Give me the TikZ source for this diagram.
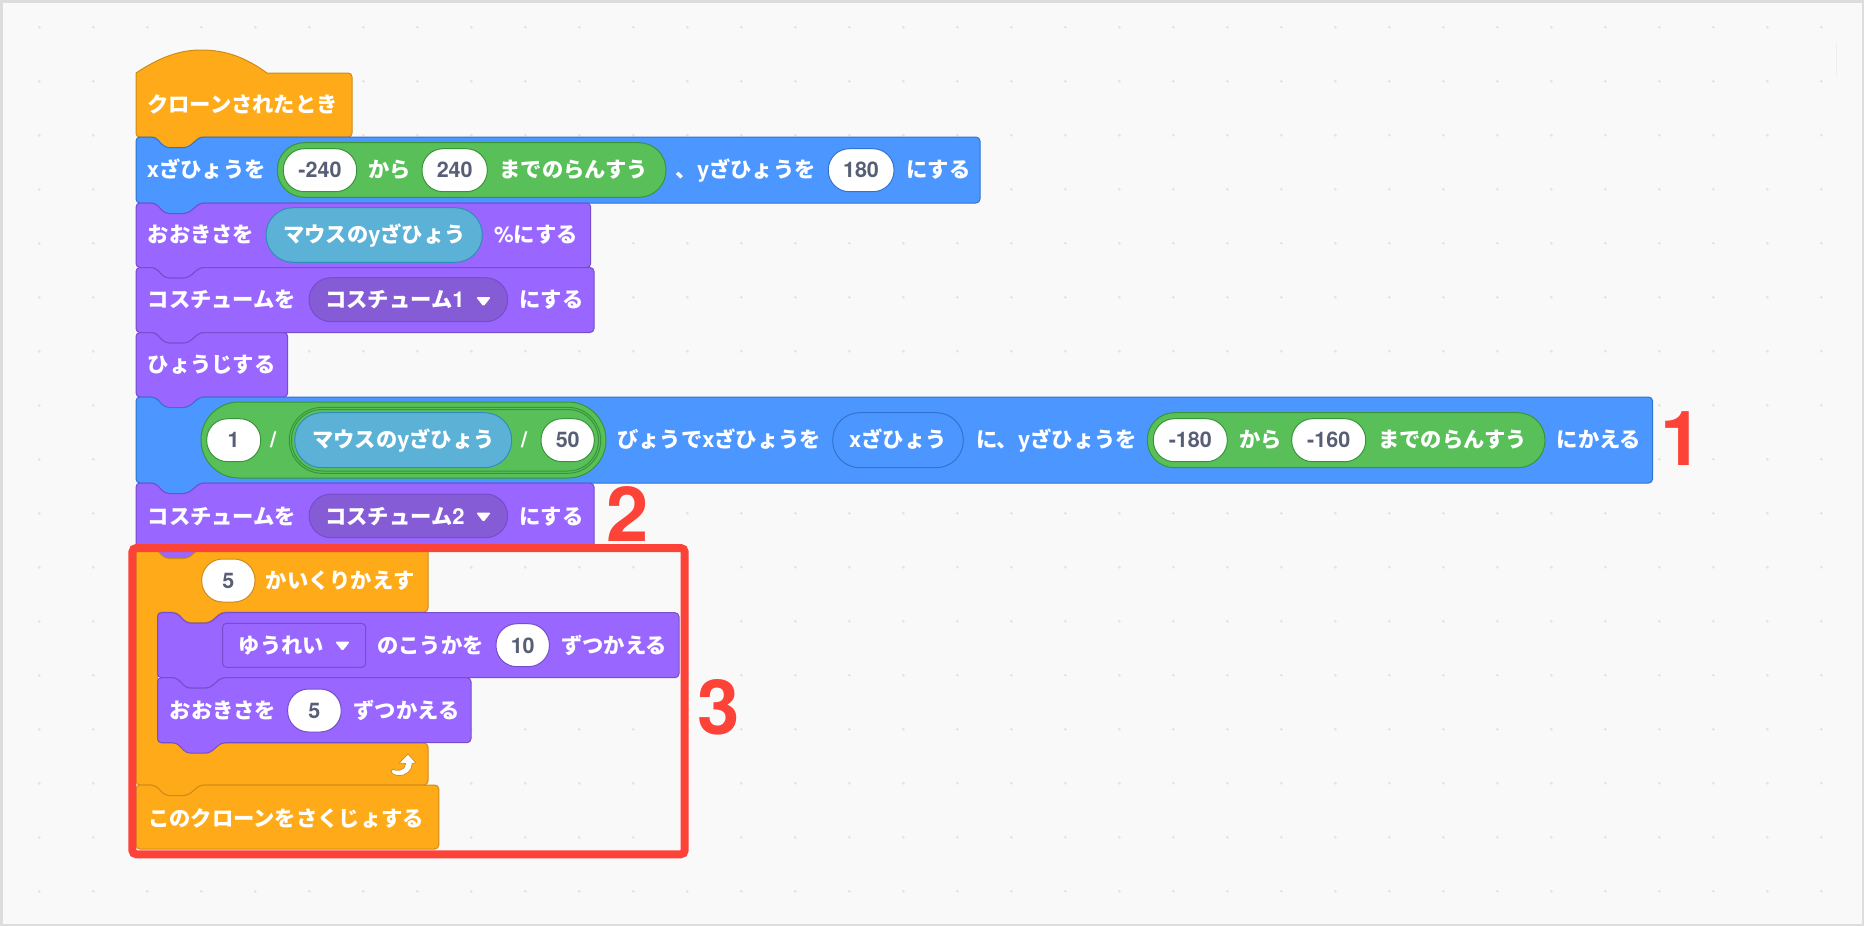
\documentclass[tikz,border=0pt]{standalone}
\usepackage{fontspec}
\setmainfont{Noto Sans CJK JP}
\newfontfamily\lat{TeX Gyre Heros}
\definecolor{bluef}{HTML}{4C97FF}\definecolor{blues}{HTML}{3373CC}
\definecolor{purf}{HTML}{9966FF}\definecolor{purs}{HTML}{774DCB}
\definecolor{orf}{HTML}{FFAB19}\definecolor{ors}{HTML}{CF8B17}
\definecolor{grf}{HTML}{59C059}\definecolor{grs}{HTML}{389438}
\definecolor{senf}{HTML}{5CB1D6}\definecolor{sens}{HTML}{2E8EB8}
\definecolor{ddf}{HTML}{855CD6}
\definecolor{numc}{HTML}{575E75}
\definecolor{redc}{HTML}{FD4238}
\definecolor{bgc}{HTML}{F9F9F9}\definecolor{edgec}{HTML}{DDDDDD}
\definecolor{dotc}{HTML}{E2E2EC}
\tikzset{
 blueblk/.style={fill=bluef,draw=blues,line width=1pt},
 purblk/.style={fill=purf,draw=purs,line width=1pt},
 orblk/.style={fill=orf,draw=ors,line width=1pt},
 grpill/.style={fill=grf,draw=grs,line width=1pt},
 senpill/.style={fill=senf,draw=sens,line width=1pt},
 ddpill/.style={fill=ddf,draw=purs,line width=1pt},
 wb/.style={fill=white,draw=blues,line width=1pt},
 wg/.style={fill=white,draw=grs,line width=1pt},
 wp/.style={fill=white,draw=purs,line width=1pt},
 wo/.style={fill=white,draw=ors,line width=1pt},
 lbl/.style={anchor=base west,inner sep=0pt,text=white,font=\fontsize{21.3}{21.3}\selectfont\bfseries},
 numlbl/.style={anchor=base,inner sep=0pt,text=numc,font=\fontsize{21.5}{21.5}\selectfont\lat\bfseries},
 biglbl/.style={anchor=base west,inner sep=0pt,text=redc,font=\fontsize{76}{76}\selectfont\lat\bfseries},
}
\newcommand\la[1]{{\fontsize{22}{22}\selectfont\lat\bfseries #1}}
\newcount\nn
\newcommand\tx[3]{\global\advance\nn 1 \node[lbl] (t\the\nn) at ({#1},{#2+7.5}) {#3};}
\newcommand\nm[3]{\global\advance\nn 1 \node[numlbl] (t\the\nn) at ({#1},{#2+7.7}) {#3};}
\newcommand\bignum[3]{\global\advance\nn 1 \node[biglbl] (t\the\nn) at ({#1},{#2}) {#3};}
% block with notch and bump: style, x1,y1,x2,y2
\newcommand\blk[5]{\draw[#1,rounded corners=4pt] (#2,{#3+9}) -- (#2,#3) -- ({#2+19},#3) -- ({#2+29},{#3+10.5}) -- ({#2+52},{#3+10.5}) -- ({#2+64},#3) -- (#4,#3) -- (#4,#5) -- ({#2+64},#5) -- ({#2+52},{#5+10.5}) -- ({#2+29},{#5+10.5}) -- ({#2+19},#5) -- (#2,#5) -- cycle;}
% pill: style, x1,y1,x2,y2, radius
\newcommand\pill[6]{\draw[#1,rounded corners=#6pt] (#2,#3) rectangle (#4,#5);}
\newcommand\tri[3]{\fill[white,rounded corners=1.5pt] (#1,#2) -- ({#1+15},#2) -- ({#1+7.5},#3) -- cycle;}
\begin{document}
\begin{tikzpicture}[x=1pt,y=-1pt]
\useasboundingbox (0,0) rectangle (1864,926);
\fill[edgec] (0,0) rectangle (1864,926);
\fill[bgc] (3,3) rectangle (1862,924);
\foreach \i in {0,...,33}{\foreach \j in {0,...,16}{
  \fill[dotc] ({39.3+54*\i},{27.3+54*\j}) circle (1.5pt);}}
\draw[dotc!60,line width=1.5pt] (1836.5,42) -- (1836.5,76);
% hat
\draw[orblk] (136,73) .. controls (160,57) and (180,50) .. (201,50) .. controls (225,50) and (245,57) .. (267,73) -- (348,73) .. controls (350.5,73) and (352,74.5) .. (352,77) -- (352,133) .. controls (352,135.5) and (350.5,137) .. (348,137) -- (200,137) -- (188,147.5) -- (165,147.5) -- (155,137) -- (140,137) .. controls (137.5,137) and (136,135.5) .. (136,133) -- cycle;
\tx{147}{105}{クローンされたとき}
% row 1
\blk{blueblk}{136}{137}{980}{203}
\tx{146.7}{170}{\la{x}ざひょうを}
\pill{grpill}{277.3}{142.7}{666}{197.3}{27}
\pill{wg}{283.3}{148.7}{356.7}{191.7}{21}
\nm{320}{170}{-240}
\tx{368}{170}{から}
\pill{wg}{422}{148.7}{487.3}{191.7}{21}
\nm{454.7}{170}{240}
\tx{499.3}{170}{までのらんすう}
\tx{675.5}{170}{、\la{y}ざひょうを}
\pill{wb}{828.3}{148.7}{894}{191.7}{21}
\nm{861}{170}{180}
\tx{906}{170}{にする}
% row 2
\blk{purblk}{136}{203}{590.7}{267.5}
\tx{147.5}{235}{おおきさを}
\pill{senpill}{266}{207.7}{482.3}{262.3}{27}
\tx{283}{235}{マウスの\la{y}ざひょう}
\tx{494}{235}{\la{\%}にする}
% row 3
\blk{purblk}{136}{267.5}{594}{332.5}
\tx{147.5}{300}{コスチュームを}
\pill{ddpill}{309}{277.7}{507.7}{321.7}{22}
\tx{325}{300}{コスチューム\la{1}}
\tri{476}{297}{306.5}
\tx{519}{300}{にする}
% row 4
\blk{purblk}{136}{332.5}{287.7}{397}
\tx{147.5}{365}{ひょうじする}
% row 5
\blk{blueblk}{136}{397}{1652.6}{483}
\pill{grpill}{201}{402}{606}{478}{38}
\pill{wg}{206.7}{418.7}{260.7}{461.7}{21}
\nm{233.7}{440}{1}
\tx{270}{440}{\la{/}}
\pill{grpill}{289.3}{407.3}{600.7}{473.3}{33}
\pill{grpill}{291.5}{409.5}{598.5}{471}{30.5}
\pill{senpill}{294.7}{412.7}{511.7}{467.7}{27}
\tx{312}{440}{マウスの\la{y}ざひょう}
\tx{521}{440}{\la{/}}
\pill{wg}{541}{418.7}{594.3}{461.7}{21}
\nm{567.7}{440}{50}
\tx{617}{440}{びょうで\la{x}ざひょうを}
\pill{draw=blues,line width=1pt,fill=bluef}{832.7}{412.7}{963.3}{467.7}{27}
\tx{849}{440}{\la{x}ざひょう}
\tx{976}{440}{に、\la{y}ざひょうを}
\pill{grpill}{1147.3}{412.7}{1545}{467.7}{27}
\pill{wg}{1153.3}{418.7}{1227.3}{461.7}{21}
\nm{1190.3}{440}{-180}
\tx{1239}{440}{から}
\pill{wg}{1291.7}{418.7}{1365.7}{461.7}{21}
\nm{1328.7}{440}{-160}
\tx{1378}{440}{までのらんすう}
\tx{1556.5}{440}{にかえる}
% row 6
\blk{purblk}{136}{483}{594}{548}
\tx{147.5}{516.7}{コスチュームを}
\pill{ddpill}{309}{494}{507.7}{537.7}{22}
\tx{325}{516.7}{コスチューム\la{2}}
\tri{476}{512.5}{522}
\tx{519}{516.7}{にする}
% C block
\draw[orblk,rounded corners=4pt] (136,557) -- (136,548) -- (155,548) -- (165,558.5) -- (188,558.5) -- (200,548) -- (428,548) -- (428,612) -- (221.5,612) -- (209.5,622.5) -- (186.5,622.5) -- (176.5,612) -- (157.5,612) -- (157.5,743) -- (428,743) -- (428,785) -- (200,785) -- (188,795.5) -- (165,795.5) -- (155,785) -- (136,785) -- cycle;
\pill{wo}{201.7}{559}{255}{602}{21}
\nm{228.3}{580.5}{5}
\tx{265.5}{580.5}{かいくりかえす}
% inner 1
\blk{purblk}{157.5}{612.7}{679}{677.7}
\draw[fill=purf,draw=purs,line width=1pt,rounded corners=4pt] (222.6,623.3) rectangle (365.7,667.3);
\tx{238.5}{645.7}{ゆうれい}
\tri{335}{641.5}{651}
\tx{377}{645.7}{のこうかを}
\pill{wp}{496}{623.7}{549.4}{666.7}{21}
\nm{522.7}{645.7}{10}
\tx{561}{645.7}{ずつかえる}
% inner 2
\blk{purblk}{157.5}{677.7}{471}{742.7}
\tx{169.5}{710.7}{おおきさを}
\pill{wp}{287.6}{689}{341.2}{732}{21}
\nm{314.4}{710.7}{5}
\tx{353.3}{710.7}{ずつかえる}
% loop arrow
\draw[fill=white,draw=ors,line width=0.7pt,line join=round] (408,754) -- (416,763) -- (412,763.5) .. controls (412,771) and (406,776) .. (398,775.5) .. controls (395,775.5) and (392,774) .. (391,772) -- (392.5,769) .. controls (395,771) and (405,772) .. (405.5,763.5) -- (399,763) -- cycle;
% delete block (no bump)
\draw[orblk,rounded corners=4pt] (136,794) -- (136,785) -- (155,785) -- (165,795.5) -- (188,795.5) -- (200,785) -- (438.8,785) -- (438.8,849) -- (136,849) -- cycle;
\tx{148}{819}{このクローンをさくじょする}
% red frame
\draw[redc,line width=8pt,rounded corners=4pt] (132.4,548) rectangle (684.7,854.3);
\bignum{1660}{465}{1}
\bignum{606}{541.5}{2}
\bignum{697}{734}{3}
\end{tikzpicture}
\end{document}
